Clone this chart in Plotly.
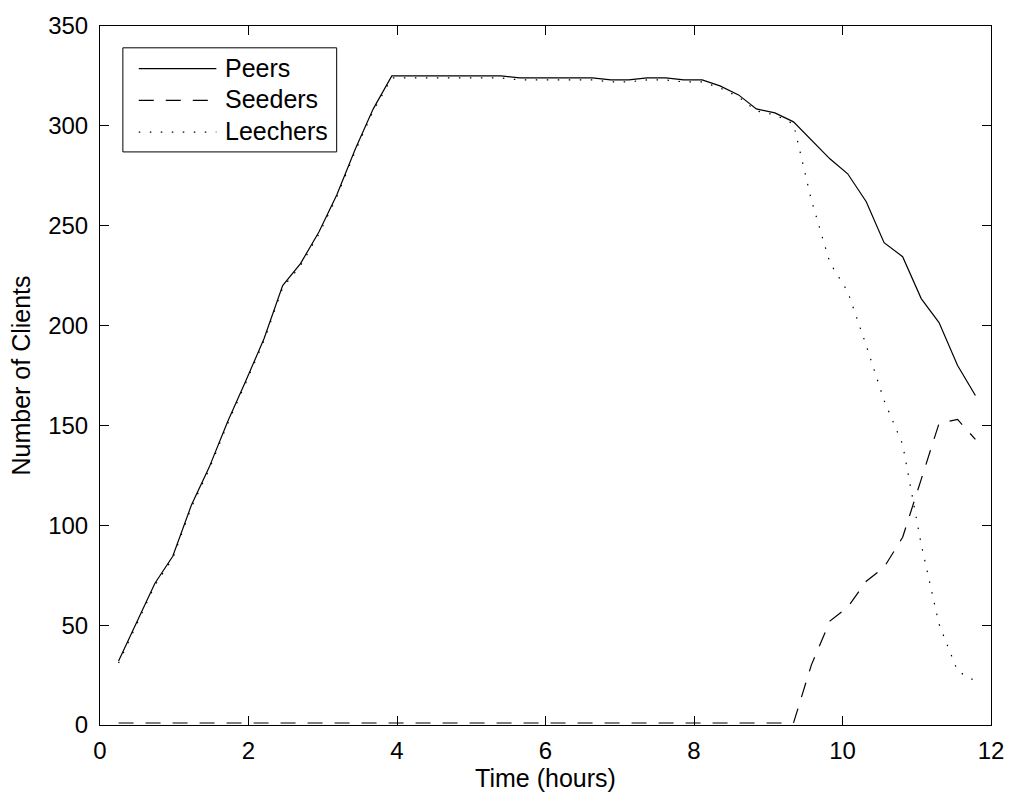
import plotly.graph_objects as go

# Sample times (hours)
time_h = [0.25, 0.49, 0.74, 0.98, 1.23, 1.47, 1.72, 1.96, 2.21, 2.46,
          2.70, 2.95, 3.19, 3.44, 3.68, 3.93, 4.18, 4.42, 4.67, 4.91,
          5.16, 5.40, 5.65, 5.90, 6.14, 6.39, 6.63, 6.88, 7.12, 7.37,
          7.62, 7.86, 8.11, 8.35, 8.60, 8.84, 9.09, 9.34, 9.58, 9.83,
          10.07, 10.32, 10.56, 10.81, 11.06, 11.30, 11.55, 11.79]

peers = [32, 51, 71, 84.5, 110, 129, 152, 172, 193.5, 220,
         231, 247, 265.5, 288.5, 308.5, 325, 325, 325, 325, 325,
         325, 325, 324, 324, 324, 324, 324, 323, 323, 324,
         324, 323, 323, 320, 315.5, 308.5, 306.5, 302, 293, 283.5,
         276, 262, 241.5, 234.5, 213.5, 201.5, 180, 165]

seeders = [1, 1, 1, 1, 1, 1, 1, 1, 1, 1,
           1, 1, 1, 1, 1, 1, 1, 1, 1, 1,
           1, 1, 1, 1, 1, 1, 1, 1, 1, 1,
           1, 1, 1, 1, 1, 1, 1, 1, 30, 52,
           59, 72, 79, 94, 123, 151, 153, 143]

leechers = [31, 50, 70, 83.5, 109, 128, 151, 171, 192.5, 219,
            230, 246, 264.5, 287.5, 307.5, 324, 324, 324, 324, 324,
            324, 324, 323, 323, 323, 323, 323, 322, 322, 323,
            323, 322, 322, 319, 314.5, 307.5, 305.5, 301, 263, 231.5,
            217, 190, 162.5, 140.5, 90.5, 50.5, 27, 22]

series_names = ["Peers", "Seeders", "Leechers"]
x_ticks = [0, 2, 4, 6, 8, 10, 12]
y_ticks = [0, 50, 100, 150, 200, 250, 300, 350]

FONT = "Liberation Sans, Arial, Helvetica, sans-serif"
TICK_SIZE = 24
TEXT_SIZE = 25
DASHES = {"Peers": "solid", "Seeders": "15px,12px", "Leechers": "1.5px,9.5px"}
LW = 1.2

fig = go.Figure()
for name, vals in zip(series_names, [peers, seeders, leechers]):
    fig.add_trace(go.Scatter(
        x=time_h, y=vals, mode="lines", name=name,
        line=dict(color="black", width=LW, dash=DASHES[name]),
        showlegend=False,
    ))

W, H = 1016, 798
ML, MR, MT, MB = 100, 20, 20, 73
PW, PH = W - ML - MR, H - MT - MB


def px_x(p):
    return (p - ML) / PW


def px_y(p):
    return (H - MB - p) / PH


# Boxed legend in the upper-left corner
shapes = [dict(type="rect", xref="paper", yref="paper",
               x0=px_x(123), x1=px_x(338), y0=px_y(147), y1=px_y(42),
               line=dict(color="black", width=1), fillcolor="white", layer="above")]
annotations = []
for k, name in enumerate(series_names):
    row = 63 + 32 * k
    shapes.append(dict(type="line", xref="paper", yref="paper",
                       x0=px_x(139), x1=px_x(217), y0=px_y(row), y1=px_y(row),
                       line=dict(color="black", width=LW, dash=DASHES[name]),
                       layer="above"))
    annotations.append(dict(xref="paper", yref="paper", x=px_x(224), y=px_y(row - 1),
                            text=name, showarrow=False, xanchor="left",
                            yanchor="middle",
                            font=dict(family=FONT, size=TEXT_SIZE, color="black")))

axis_common = dict(
    showline=True, linecolor="black", linewidth=1, mirror="ticks",
    ticks="inside", ticklen=9, tickwidth=1, tickcolor="black",
    showgrid=False, zeroline=False,
    tickfont=dict(family=FONT, size=TICK_SIZE, color="black"),
)

fig.update_layout(
    width=W, height=H,
    margin=dict(l=ML, r=MR, t=MT, b=MB, pad=0),
    paper_bgcolor="white", plot_bgcolor="white",
    font=dict(family=FONT, size=TICK_SIZE, color="black"),
    xaxis=dict(range=[0, 12], tickvals=x_ticks, ticklabelstandoff=4,
               title=dict(text="Time (hours)",
                          font=dict(family=FONT, size=TEXT_SIZE), standoff=0),
               **axis_common),
    yaxis=dict(range=[0, 350], tickvals=y_ticks, ticklabelstandoff=6,
               title=dict(text="Number of Clients",
                          font=dict(family=FONT, size=TEXT_SIZE), standoff=10),
               **axis_common),
    shapes=shapes,
    annotations=annotations,
    showlegend=False,
)

fig.write_html("out.html")
